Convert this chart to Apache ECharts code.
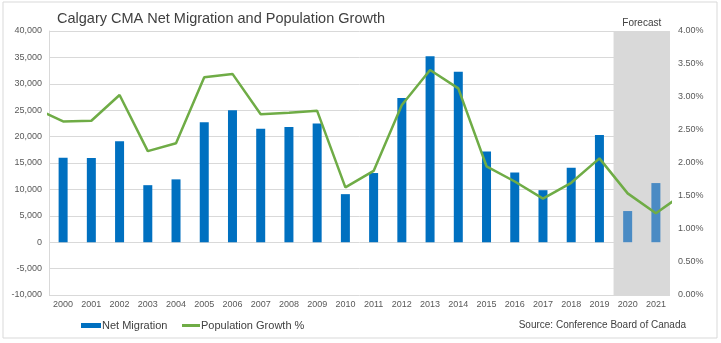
<!DOCTYPE html>
<html>
<head>
<meta charset="utf-8">
<script src="https://cdn.jsdelivr.net/npm/echarts@6/dist/echarts.min.js"></script>
<style>
  html, body { margin: 0; padding: 0; background: #fff; }
  #chart { width: 721px; height: 343px; }
</style>
</head>
<body>
<div id="chart"></div>
<script>
// Years on the category axis
const years = ['2000','2001','2002','2003','2004','2005','2006','2007','2008','2009','2010',
               '2011','2012','2013','2014','2015','2016','2017','2018','2019','2020','2021'];

// Net migration (persons); the last two years are forecasts
const netMigration = [16000, 15950, 19100, 10800, 11900, 22700, 25000, 21500, 21800, 22500, 9100,
                      13100, 27300, 35200, 32300, 17200, 13200, 9850, 14100, 20300, 5900, 11200];
const forecastFrom = 2020;

// Population growth (%), one year either side runs off the plot edges
const growthYears = [1999, 2000, 2001, 2002, 2003, 2004, 2005, 2006, 2007, 2008, 2009, 2010,
                     2011, 2012, 2013, 2014, 2015, 2016, 2017, 2018, 2019, 2020, 2021, 2022];
const growthPct = [2.83, 2.63, 2.64, 3.03, 2.18, 2.30, 3.30, 3.35, 2.74, 2.76, 2.79, 1.63,
                   1.88, 2.88, 3.41, 3.13, 1.95, 1.72, 1.46, 1.70, 2.07, 1.54, 1.24, 1.54];

const FONT = 'Liberation Sans, Arial, sans-serif';
const BLUE = '#0070C0';
const BLUE_FC = '#4A8BC4';
const GREEN = '#6FAC46';
const GRID = '#D9D9D9';
const LABEL = '#595959';

const barData = netMigration.map((v, i) => {
  const item = { value: v };
  if (Number(years[i]) >= forecastFrom) item.itemStyle = { color: BLUE_FC };
  return item;
});
const lineData = growthYears.map((y, i) => [y, growthPct[i]]);

const legendText = { fontFamily: FONT, fontSize: 11, color: '#404040', padding: [0, 0, 0, -4] };

const chart = echarts.init(document.getElementById('chart'), null, { renderer: 'canvas' });

chart.setOption({
  animation: false,
  backgroundColor: '#fff',
  textStyle: { fontFamily: FONT },
  title: {
    text: 'Calgary CMA Net Migration and Population Growth',
    left: 52, top: 6,
    textStyle: { fontFamily: FONT, fontSize: 14.5, fontWeight: 'normal', color: '#404040' }
  },
  grid: { left: 49, right: 51, top: 31, bottom: 48, containLabel: false },
  legend: [
    {
      left: 76, top: 315,
      itemWidth: 20, itemHeight: 5,
      textStyle: legendText,
      data: [{ name: 'Net Migration', icon: 'rect' }]
    },
    {
      left: 177, top: 315,
      itemWidth: 18, itemHeight: 3,
      textStyle: legendText,
      data: [{ name: 'Population Growth %', icon: 'rect' }]
    }
  ],
  xAxis: [
    {
      type: 'category',
      data: years,
      boundaryGap: true,
      position: 'bottom',
      axisLine: { show: false },
      axisTick: { show: false },
      axisLabel: { color: LABEL, fontSize: 9, fontFamily: FONT, margin: 5, interval: 0 },
      splitLine: { show: false }
    },
    {
      type: 'value',
      min: 1999.5, max: 2021.5,
      show: false
    }
  ],
  yAxis: [
    {
      type: 'value',
      min: -10000, max: 40000, interval: 5000,
      axisLine: { show: true, lineStyle: { color: GRID } },
      axisTick: { show: false },
      axisLabel: {
        color: LABEL, fontSize: 9, fontFamily: FONT, margin: 7,
        formatter: v => v.toLocaleString('en-US')
      },
      splitLine: { show: true, lineStyle: { color: GRID, width: 1 } }
    },
    {
      type: 'value',
      min: 0, max: 4, interval: 0.5,
      position: 'right',
      axisLine: { show: false },
      axisTick: { show: false },
      axisLabel: {
        color: LABEL, fontSize: 9, fontFamily: FONT, margin: 8,
        formatter: v => v.toFixed(2) + '%'
      },
      splitLine: { show: false }
    }
  ],
  series: [
    {
      name: 'Net Migration',
      type: 'bar',
      xAxisIndex: 0, yAxisIndex: 0,
      data: barData,
      barWidth: 9,
      itemStyle: { color: BLUE },
      z: 2
    },
    {
      name: 'Population Growth %',
      type: 'line',
      xAxisIndex: 1, yAxisIndex: 1,
      data: lineData,
      symbol: 'none',
      clip: true,
      lineStyle: { color: GREEN, width: 2.5 },
      itemStyle: { color: GREEN },
      z: 3,
      markArea: {
        silent: true,
        z: 1,
        itemStyle: { color: '#D9D9D9' },
        label: {
          show: true, position: 'top', distance: 3,
          color: '#404040', fontSize: 10, fontFamily: FONT
        },
        data: [[{ name: 'Forecast', xAxis: forecastFrom - 0.5 }, { xAxis: 2021.5 }]]
      }
    }
  ],
  graphic: [
    {
      type: 'rect',
      shape: { x: 3, y: 2, width: 714, height: 336 },
      style: { fill: 'none', stroke: '#D9D9D9', lineWidth: 1 },
      silent: true
    },
    {
      type: 'text',
      right: 35, top: 320,
      style: { text: 'Source: Conference Board of Canada', fill: '#404040', font: '10px ' + FONT }
    }
  ]
});
</script>
</body>
</html>
